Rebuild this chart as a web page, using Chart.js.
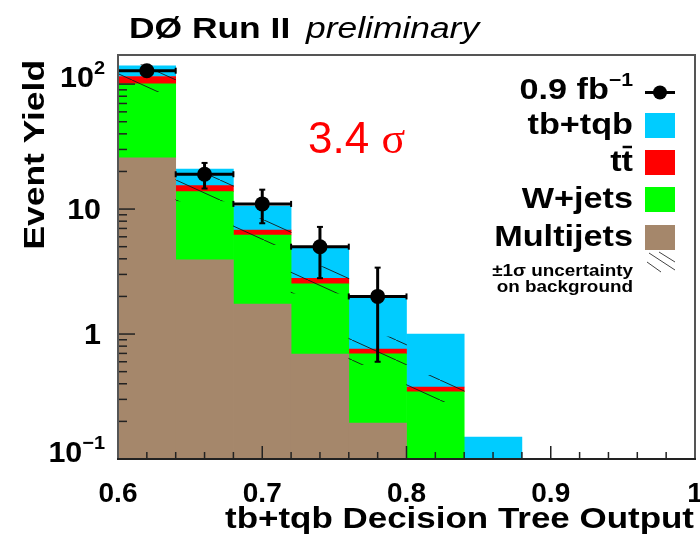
<!DOCTYPE html>
<html>
<head>
<meta charset="utf-8">
<script src="https://cdn.jsdelivr.net/npm/chart.js@4/dist/chart.umd.min.js"></script>
<style>
html,body{margin:0;padding:0;background:#fff;}
#wrap{width:700px;height:537px;position:relative;}
</style>
</head>
<body>
<div id="wrap"><canvas id="c" width="700" height="537"></canvas></div>
<script>
// Histogram bins of the decision-tree output (width 0.04)
const binCenters = [0.62, 0.66, 0.70, 0.74, 0.78, 0.82, 0.86];
const binHalfWidth = 0.02;

// Expected yields per bin, stacked from the bottom up
const multijets = [25.7, 3.93, 1.74, 0.69, 0.194, 0, 0];
const wjets     = [74.8, 9.87, 4.46, 1.83, 0.50, 0.345, 0];
const ttbar     = [14.5, 1.6, 0.59, 0.27, 0.064, 0.032, 0];
const signal    = [25.0, 5.5, 3.8, 2.23, 1.22, 0.62, 0.15];

// ±1 sigma uncertainty on the summed background
const bkgErr = [28, 3.8, 1.6, 0.67, 0.19, 0.09, 0];

// Observed events with their errors
const dataX       = [0.62, 0.66, 0.70, 0.74, 0.78];
const dataY       = [128, 19, 11, 5, 2];
const dataErrUp   = [11.3, 4.4, 3.3, 2.2, 1.4];
const dataErrDown = [11.3, 4.4, 3.3, 2.2, 1.4];

// Axis ranges and labels
const X_MIN = 0.6, X_MAX = 1.0;
const Y_MIN = 0.1, Y_MAX = 171;
const xTickValues = [0.6, 0.7, 0.8, 0.9, 1.0];
const xTickLabels = ['0.6', '0.7', '0.8', '0.9', '1'];
const yTickValues = [0.1, 1, 10, 100];
const yTickBase   = ['10', '1', '10', '10'];
const yTickExp    = ['\u22121', '', '', '2'];

const COLORS = {
  multijets: '#a5876b',
  wjets: '#00ff00',
  ttbar: '#ff0000',
  signal: '#00ccff'
};

const FONT = '"Liberation Sans", Arial, Helvetica, sans-serif';
const SERIF = '"Liberation Serif", "Times New Roman", serif';
const SX = 1.18; // wide glyph stretch used for the titles and legend

// Sparse diagonal hatch for the uncertainty band
function makeHatch() {
  const c = document.createElement('canvas');
  c.width = 44; c.height = 20;
  const g = c.getContext('2d');
  g.strokeStyle = 'rgba(25,25,25,0.9)';
  g.lineWidth = 1;
  g.beginPath();
  g.moveTo(0, 0); g.lineTo(44, 20);
  g.stroke();
  return g.createPattern(c, 'repeat');
}

// Build floating bars for the stacked components
const layers = [
  { label: 'Multijets', vals: multijets, color: COLORS.multijets },
  { label: 'W+jets', vals: wjets, color: COLORS.wjets },
  { label: 'tt', vals: ttbar, color: COLORS.ttbar },
  { label: 'tb+tqb', vals: signal, color: COLORS.signal }
];
const running = binCenters.map(() => 0);
const barSets = layers.map(L => {
  const pts = [];
  L.vals.forEach((v, i) => {
    const lo = running[i];
    running[i] += v;
    if (v > 0) pts.push({ x: binCenters[i], y: [Math.max(lo, Y_MIN), running[i]] });
  });
  return {
    type: 'bar', label: L.label, data: pts, backgroundColor: L.color,
    borderWidth: 0, grouped: false, barPercentage: 1, categoryPercentage: 1, order: 3
  };
});

const bkgTotal = binCenters.map((_, i) => multijets[i] + wjets[i] + ttbar[i]);
const bandPts = [];
bkgErr.forEach((e, i) => {
  if (e > 0) bandPts.push({ x: binCenters[i], y: [bkgTotal[i] - e, bkgTotal[i] + e] });
});
const bandSet = {
  type: 'bar', label: 'uncertainty', data: bandPts, backgroundColor: makeHatch(),
  borderWidth: 0, grouped: false, barPercentage: 1, categoryPercentage: 1, order: 2
};

const dataSet = {
  type: 'line', label: 'data',
  data: dataX.map((x, i) => ({ x: x, y: dataY[i] })),
  showLine: false, pointRadius: 7.5, pointHoverRadius: 7.5,
  pointBackgroundColor: '#000', pointBorderColor: '#000', pointBorderWidth: 0,
  order: 1
};

// Text helper: runs of text with their own font / raise, optionally stretched
function partsWidth(ctx, parts, sx) {
  let w = 0;
  parts.forEach(p => { ctx.font = p.font; w += ctx.measureText(p.t).width * sx; });
  return w;
}
function drawParts(ctx, parts, x, y, align, sx, color) {
  const w = partsWidth(ctx, parts, sx);
  let cx = align === 'right' ? x - w : (align === 'center' ? x - w / 2 : x);
  parts.forEach(p => {
    ctx.save();
    ctx.font = p.font;
    ctx.fillStyle = p.color || color || '#000';
    ctx.textAlign = 'left';
    ctx.textBaseline = 'alphabetic';
    ctx.translate(cx, y + (p.dy || 0));
    ctx.scale(sx, 1);
    ctx.fillText(p.t, 0, 0);
    ctx.restore();
    ctx.font = p.font;
    cx += ctx.measureText(p.t).width * sx;
  });
  return w;
}
function seg(ctx, x1, y1, x2, y2) {
  ctx.beginPath(); ctx.moveTo(x1, y1); ctx.lineTo(x2, y2); ctx.stroke();
}

const decor = {
  id: 'decor',
  beforeDatasetDraw(chart, args) {
    if (args.meta.type !== 'line') return;
    // error bars under the data markers
    const ctx = chart.ctx, xs = chart.scales.x, ys = chart.scales.y;
    ctx.save();
    ctx.strokeStyle = '#000';
    ctx.lineWidth = 3;
    dataX.forEach((xv, i) => {
      const px = xs.getPixelForValue(xv);
      const py = ys.getPixelForValue(dataY[i]);
      const xl = xs.getPixelForValue(xv - binHalfWidth);
      const xr = xs.getPixelForValue(xv + binHalfWidth);
      const yt = ys.getPixelForValue(dataY[i] + dataErrUp[i]);
      const yb = ys.getPixelForValue(dataY[i] - dataErrDown[i]);
      seg(ctx, xl, py, xr, py);
      seg(ctx, px, yt, px, yb);
      ctx.lineWidth = 2;
      seg(ctx, px - 3, yt, px + 3, yt);
      seg(ctx, px - 3, yb, px + 3, yb);
      seg(ctx, xl, py - 3, xl, py + 3);
      seg(ctx, xr, py - 3, xr, py + 3);
      ctx.lineWidth = 3;
    });
    ctx.restore();
  },
  afterDatasetsDraw(chart) {
    const ctx = chart.ctx, xs = chart.scales.x, ys = chart.scales.y;
    const { left, right, top, bottom } = chart.chartArea;
    ctx.save();
    ctx.strokeStyle = '#222';
    ctx.lineWidth = 1.5;
    // x ticks, pointing into the frame
    for (let k = 0; k <= 20; k++) {
      const v = X_MIN + k * 0.02;
      const px = xs.getPixelForValue(v);
      seg(ctx, px, bottom, px, bottom - (k % 5 === 0 ? 13 : 7));
    }
    // y ticks on the log axis
    yTickValues.forEach(d => {
      for (let m = 1; m <= 9; m++) {
        const v = d * m;
        if (v > Y_MAX) break;
        const py = ys.getPixelForValue(v);
        seg(ctx, left, py, left + (m === 1 ? 17 : 9), py);
      }
    });
    // frame
    ctx.strokeStyle = '#555';
    ctx.lineWidth = 2;
    ctx.strokeRect(left, top, right - left, bottom - top);
    ctx.strokeStyle = '#222';
    seg(ctx, left - 1, bottom, right + 1, bottom);
    ctx.restore();
  },
  afterDraw(chart) {
    const ctx = chart.ctx, ys = chart.scales.y;
    ctx.save();

    // y tick labels with exponents
    yTickValues.forEach((v, i) => {
      const py = ys.getPixelForValue(v);
      const parts = [{ t: yTickBase[i], font: 'bold 29px ' + FONT }];
      let shift = 10, xr = 101;
      if (yTickExp[i]) {
        parts.push({ t: yTickExp[i], font: 'bold 19px ' + FONT, dy: -13 });
        shift = 3; xr = 105;
      }
      drawParts(ctx, parts, xr, py + shift, 'right', 1.05);
    });

    // title
    drawParts(ctx, [{ t: 'D\u00d8 Run II', font: 'bold 30px ' + FONT }], 129, 38, 'left', SX);
    drawParts(ctx, [{ t: 'preliminary', font: 'italic 30px ' + FONT }], 306, 38, 'left', SX);

    // axis titles
    drawParts(ctx, [{ t: 'tb+tqb Decision Tree Output', font: 'bold 30px ' + FONT }], 694, 528, 'right', 1.165);
    ctx.save();
    ctx.translate(44, 60);
    ctx.rotate(-Math.PI / 2);
    drawParts(ctx, [{ t: 'Event Yield', font: 'bold 30px ' + FONT }], 0, 0, 'right', SX);
    ctx.restore();

    // significance
    const w1 = drawParts(ctx, [{ t: '3.4 ', font: '44px ' + FONT }], 308, 153, 'left', 1.0, '#ff0000');
    drawParts(ctx, [{ t: '\u03c3', font: '44px ' + SERIF }], 308 + w1, 153, 'left', 1.0, '#ff0000');

    // legend
    const LF = 'bold 29px ' + FONT;
    const tx = 633, bx = 645, bw = 30, bh = 25;
    drawParts(ctx, [{ t: '0.9 fb', font: LF }, { t: '\u22121', font: 'bold 18px ' + FONT, dy: -13 }], tx, 99, 'right', SX);
    ctx.strokeStyle = '#000'; ctx.lineWidth = 3;
    seg(ctx, bx, 92.5, bx + bw, 92.5);
    ctx.fillStyle = '#000';
    ctx.beginPath(); ctx.arc(bx + bw / 2, 92.5, 7, 0, Math.PI * 2); ctx.fill();

    const rows = [
      { t: 'tb+tqb', c: COLORS.signal, base: 134 },
      { t: 'tt', c: COLORS.ttbar, base: 171 },
      { t: 'W+jets', c: COLORS.wjets, base: 208 },
      { t: 'Multijets', c: COLORS.multijets, base: 246 }
    ];
    rows.forEach(r => {
      drawParts(ctx, [{ t: r.t, font: LF }], tx, r.base, 'right', SX);
      ctx.fillStyle = r.c;
      ctx.fillRect(bx, r.base - 21, bw, bh);
    });
    // bar over the second t of t-tbar
    ctx.font = LF;
    const tW = ctx.measureText('t').width * SX;
    ctx.strokeStyle = '#000'; ctx.lineWidth = 2.5;
    seg(ctx, tx - tW + 1, 171 - 24, tx - 1, 171 - 24);

    const SF = 'bold 16px ' + FONT;
    drawParts(ctx, [{ t: '\u00b11\u03c3 uncertainty', font: SF }], tx, 276, 'right', SX);
    drawParts(ctx, [{ t: 'on background', font: SF }], tx, 292, 'right', SX);
    ctx.strokeStyle = '#444'; ctx.lineWidth = 1;
    seg(ctx, bx + 4, 253, bx + 30, 270);
    seg(ctx, bx + 14, 252, bx + 30, 262);
    seg(ctx, bx + 2, 262, bx + 16, 272);
    ctx.restore();
  }
};

new Chart(document.getElementById('c'), {
  type: 'bar',
  data: { datasets: [...barSets, bandSet, dataSet] },
  options: {
    responsive: false,
    animation: false,
    events: [],
    layout: { autoPadding: false, padding: { top: 55, right: 5, left: 0, bottom: 0 } },
    plugins: { legend: { display: false }, tooltip: { enabled: false }, title: { display: false } },
    scales: {
      x: {
        type: 'linear', min: X_MIN, max: X_MAX, offset: false,
        grid: { display: false, drawTicks: false },
        border: { display: false },
        afterBuildTicks(s) { s.ticks = xTickValues.map(v => ({ value: v })); },
        ticks: {
          autoSkip: false, maxRotation: 0, padding: 18, color: '#000',
          font: { family: FONT, size: 28, weight: 'bold' },
          callback(v) { const k = xTickValues.findIndex(t => Math.abs(t - v) < 1e-9); return k >= 0 ? xTickLabels[k] : ''; }
        },
        afterFit(s) { s.height = 78; s.paddingLeft = 0; s.paddingRight = 0; }
      },
      y: {
        type: 'logarithmic', min: Y_MIN, max: Y_MAX,
        grid: { display: false, drawTicks: false },
        border: { display: false },
        ticks: { display: false },
        afterFit(s) { s.width = 118; s.paddingTop = 0; s.paddingBottom = 0; }
      }
    }
  },
  plugins: [decor]
});
</script>
</body>
</html>
